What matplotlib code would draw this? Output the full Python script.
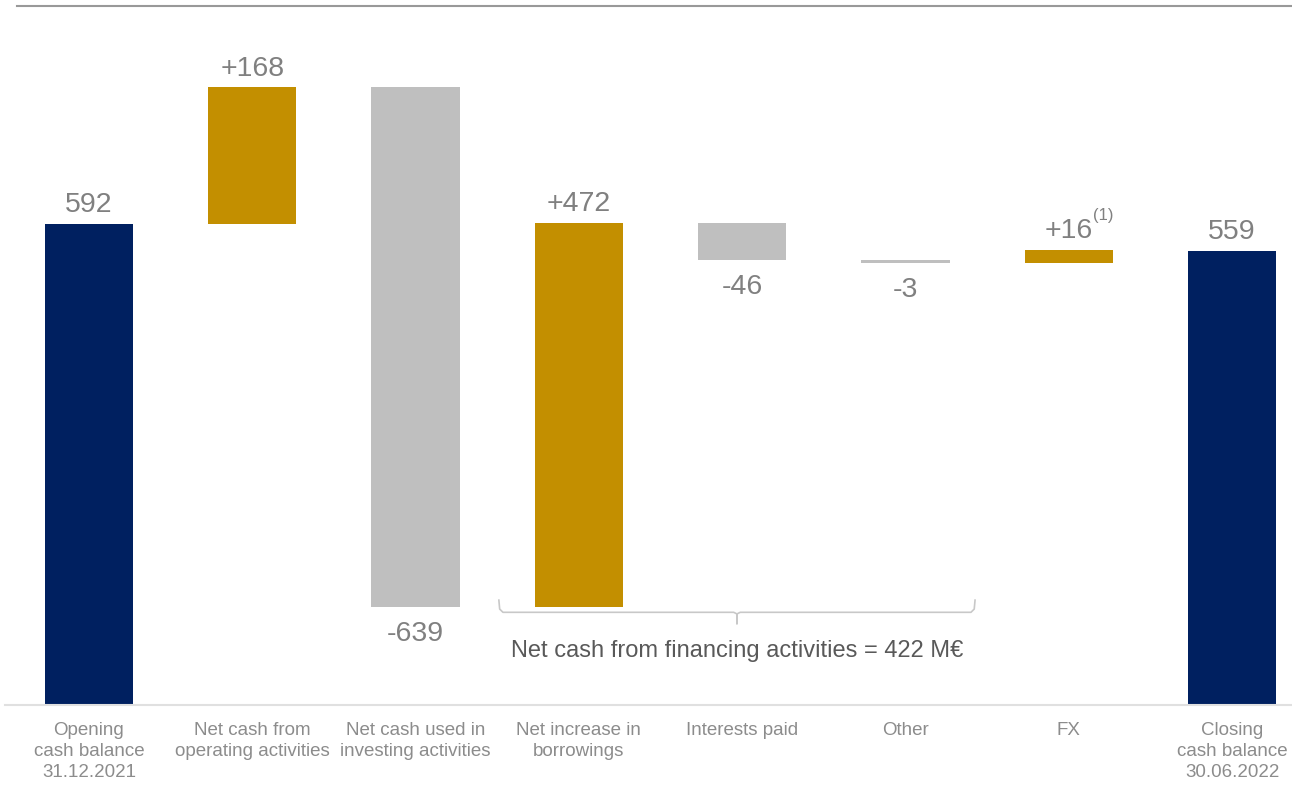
import numpy as np
import matplotlib.pyplot as plt

plt.rcParams['font.family'] = ['Liberation Sans', 'DejaVu Sans']

categories = ['Opening\ncash balance\n31.12.2021', 'Net cash from\noperating activities',
              'Net cash used in\ninvesting activities', 'Net increase in\nborrowings',
              'Interests paid', 'Other', 'FX', 'Closing\ncash balance\n30.06.2022']
values = [592, 168, -639, 472, -46, -3, 16, 559]
is_total = [True, False, False, False, False, False, False, True]
footnote = {6: '(1)'}
brace_from, brace_to = 3, 5
brace_text = 'Net cash from financing activities = 422 M€'

navy = '#002060'
gold = '#C38F00'
grey = '#BFBFBF'

fig = plt.figure(figsize=(12.92, 8.01), dpi=100)
ax = fig.add_axes([0, 0.1199, 1, 0.8726])

x = np.arange(len(values))
bottoms, heights, colors = [], [], []
running = 0
for v, tot in zip(values, is_total):
    if tot:
        bottoms.append(0)
        heights.append(v)
        colors.append(navy)
        running = v
    else:
        bottoms.append(running if v >= 0 else running + v)
        heights.append(abs(v))
        colors.append(gold if v >= 0 else grey)
        running += v

ax.bar(x, heights, bottom=bottoms, width=0.54, color=colors)

for i, v in enumerate(values):
    if is_total[i]:
        s = f'{v}'
    else:
        s = f'+{v}' if v > 0 else f'{v}'
    top = bottoms[i] + heights[i]
    if v >= 0:
        t = ax.annotate(s, (x[i], top), xytext=(0, 4), textcoords='offset points',
                        ha='center', va='bottom', fontsize=20.5, color='#808080')
    else:
        t = ax.annotate(s, (x[i], bottoms[i]), xytext=(0, -10), textcoords='offset points',
                        ha='center', va='top', fontsize=20.5, color='#808080')
    if i in footnote:
        ax.annotate(footnote[i], xy=(1, 1.12), xycoords=t, ha='left', va='center',
                    fontsize=12, color='#808080')

# brace under financing items
lo = x[brace_from] - 0.49
hi = x[brace_to] + 0.426
mid = (lo + hi) / 2
yb = 114
bx = [lo, lo + 0.005, lo + 0.025, mid - 0.02, mid, mid, mid, mid + 0.02, hi - 0.025, hi - 0.005, hi]
by = [129, 118, yb, yb, yb - 2, yb - 14, yb - 2, yb, yb, 118, 129]
ax.plot(bx, by, color='#C8C8C8', lw=1.2)
ax.text(mid, 67, brace_text, ha='center', va='center', fontsize=17, color='#595959')

ax.set_xlim(-0.545, 7.367)
ax.set_ylim(0, 860)
for sp in ax.spines.values():
    sp.set_visible(False)
ax.axhline(860, xmin=17 / 1292, xmax=1, color='#999999', lw=1.5, clip_on=False)
ax.axhline(0, xmin=5 / 1292, xmax=1, color='#E0E0E0', lw=1.5, clip_on=False)

ax.set_xticks(x)
ax.set_xticklabels(categories, fontsize=13.5, color='#8C8C8C', linespacing=1.33)
ax.tick_params(axis='x', length=0, pad=12)
ax.set_yticks([])

fig.savefig('out.png', dpi=100)
